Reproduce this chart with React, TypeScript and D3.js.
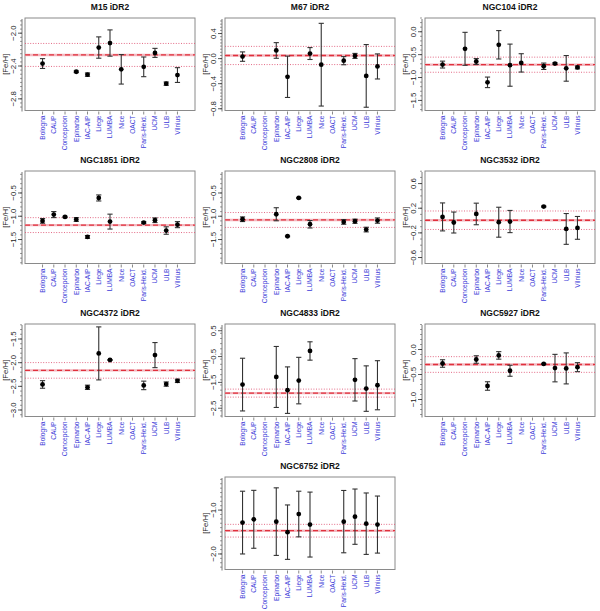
import React, { useEffect, useRef } from 'react';
import * as d3 from 'd3';

// --- Data: [Fe/H] per node, iDR2 ---
const NODES = ['Bologna', 'CAUP', 'Concepcion', 'Epinarbo', 'IAC-AIP', 'Liege', 'LUMBA', 'Nice', 'OACT', 'Paris-Heid.', 'UCM', 'ULB', 'Vilnius'];

const M15_FEH = [-2.37, null, null, -2.47, -2.505, -2.175, -2.12, -2.44, null, -2.41, -2.24, -2.615, -2.51];
const M15_ERR = [0.06, null, null, 0.01, 0.02, 0.13, 0.16, 0.18, null, 0.12, 0.055, 0.02, 0.09];
const M67_FEH = [0.032, null, null, 0.13, -0.29, null, 0.081, -0.097, null, -0.033, 0.043, -0.276, -0.125];
const M67_ERR = [0.075, null, null, 0.125, 0.33, null, 0.095, 0.66, null, 0.065, 0.04, 0.5, 0.2];
const NGC104_FEH = [-0.717, null, -0.373, -0.65, -1.105, -0.285, -0.73, -0.68, null, -0.754, -0.695, -0.8, -0.78];
const NGC104_ERR = [0.075, null, 0.36, 0.065, 0.115, 0.31, 0.46, 0.2, null, 0.07, 0.02, 0.28, 0.03];
const NGC1851_FEH = [-1.1, -0.964, -1.015, -1.07, -1.444, -0.607, -1.115, null, null, -1.136, -1.086, -1.307, -1.18];
const NGC1851_ERR = [0.05, 0.065, 0.015, 0.04, 0.03, 0.065, 0.16, null, null, 0.02, 0.05, 0.08, 0.065];
const NGC2808_FEH = [-1.064, null, null, -0.957, -1.43, -0.607, -1.172, null, null, -1.122, -1.107, -1.286, -1.093];
const NGC2808_ERR = [0.05, null, null, 0.14, 0.01, 0.01, 0.08, null, null, 0.05, 0.045, 0.05, 0.057];
const NGC3532_FEH = [0.059, -0.032, null, 0.107, null, -0.027, -0.016, null, null, 0.227, null, -0.136, -0.119];
const NGC3532_ERR = [0.227, 0.17, null, 0.175, null, 0.243, 0.18, null, null, 0.01, null, 0.25, 0.185];
const NGC4372_FEH = [-2.46, null, null, null, -2.52, -1.804, -1.943, null, null, -2.48, -1.84, -2.452, -2.384];
const NGC4372_ERR = [0.08, null, null, null, 0.045, 0.56, 0.01, null, null, 0.09, 0.265, 0.045, 0.035];
const NGC4833_FEH = [-1.585, null, null, -1.29, -1.8, -1.43, -0.284, null, null, null, -1.4, -1.74, -1.61];
const NGC4833_ERR = [1.02, null, null, 1.18, 0.9, 0.9, 0.355, null, null, null, 0.82, 0.88, 0.95];
const NGC5927_FEH = [-0.28, null, null, -0.2, -0.73, -0.118, -0.425, null, null, -0.288, -0.372, -0.378, -0.353];
const NGC5927_ERR = [0.075, null, null, 0.075, 0.085, 0.075, 0.11, null, null, 0.01, 0.275, 0.31, 0.09];
const NGC6752_FEH = [-1.285, -1.21, null, -1.263, -1.503, -1.09, -1.33, null, null, -1.263, -1.15, -1.31, -1.33];
const NGC6752_ERR = [0.715, 0.66, null, 0.77, 0.62, 0.52, 0.74, null, null, 0.71, 0.63, 0.7, 0.65];

// cluster mean and dispersion (dashed / dotted lines)
const CLUSTERS = ['M15', 'M67', 'NGC104', 'NGC1851', 'NGC2808', 'NGC3532', 'NGC4372', 'NGC4833', 'NGC5927', 'NGC6752'];
const MEANS = [-2.265, 0.05, -0.72, -1.19, -1.08, 0.005, -2.163, -1.915, -0.3, -1.47];
const SIGMAS = [0.14, 0.145, 0.165, 0.16, 0.16, 0.15, 0.165, 0.155, 0.157, 0.145];
const YLIMS = [[-2.942, -1.815], [-0.828, 0.648], [-1.72, 0.3], [-2.015, -0.028], [-2.015, -0.028], [-0.697, 0.804], [-3.137, -1.183], [-2.82, 0.76], [-1.34, 0.51], [-2.354, -0.246]];
const YTICKS = [[-2.8, -2.4, -2.0], [-0.8, -0.4, 0, 0.4], [-1.5, -1, -0.5, 0], [-1.5, -1, -0.5], [-1.5, -1, -0.5], [-0.6, -0.2, 0.2, 0.6], [-3, -2.5, -2, -1.5], [-2.5, -1.5, -0.5, 0.5], [-1, -0.5, 0], [-2, -1]];
const FEH = [M15_FEH, M67_FEH, NGC104_FEH, NGC1851_FEH, NGC2808_FEH, NGC3532_FEH, NGC4372_FEH, NGC4833_FEH, NGC5927_FEH, NGC6752_FEH];
const ERR = [M15_ERR, M67_ERR, NGC104_ERR, NGC1851_ERR, NGC2808_ERR, NGC3532_ERR, NGC4372_ERR, NGC4833_ERR, NGC5927_ERR, NGC6752_ERR];

const FONT = '"Liberation Sans", Arial, Helvetica, sans-serif';
const fmt = (v: number) => (v < 0 ? '\u2212' : '') + Math.abs(v).toFixed(1);

const App: React.FC = () => {
  const svgRef = useRef<SVGSVGElement | null>(null);

  useEffect(() => {
    if (!svgRef.current) return;
    const svg = d3.select(svgRef.current);
    svg.selectAll('*').remove();

    const rowPitch = 153;
    const boxColor = '#8a8a8a';

    CLUSTERS.forEach((name, k) => {
      const col = k === 9 ? 1 : k % 3;
      const row = Math.floor(k / 3);
      const ox = col * 200;
      const oy = row * rowPitch;
      const left = ox + 25, right = ox + 195;
      const top = oy + 18, bottom = oy + 110.5;

      const x = d3.scaleLinear().domain([-0.56, 14.56]).range([left, right]);
      const y = d3.scaleLinear().domain(YLIMS[k]).range([bottom, top]);
      const g = svg.append('g');

      // title
      g.append('text')
        .attr('x', (left + right) / 2).attr('y', oy + 10)
        .attr('text-anchor', 'middle').attr('font-family', FONT)
        .attr('font-size', '8.5px').attr('font-weight', 'bold').attr('fill', '#111')
        .text(`${name} iDR2`);

      // box
      g.append('rect')
        .attr('x', left).attr('y', top).attr('width', right - left).attr('height', bottom - top)
        .attr('fill', 'none').attr('stroke', boxColor).attr('stroke-width', 1);

      // y axis: ruler-like minor ticks plus labelled ticks
      const axX = left - 3;
      g.append('line').attr('x1', axX).attr('x2', axX).attr('y1', top + 1).attr('y2', bottom + 1)
        .attr('stroke', '#555').attr('stroke-width', 0.8);
      const minor = d3.ticks(YLIMS[k][0], YLIMS[k][1], Math.round((bottom - top) / 4.5));
      g.selectAll('.minor').data(minor).enter().append('line')
        .attr('x1', axX - 2).attr('x2', axX)
        .attr('y1', d => y(d)).attr('y2', d => y(d))
        .attr('stroke', '#555').attr('stroke-width', 0.6);
      g.selectAll('.major').data(YTICKS[k]).enter().append('line')
        .attr('x1', axX - 4).attr('x2', axX)
        .attr('y1', d => y(d)).attr('y2', d => y(d))
        .attr('stroke', '#333').attr('stroke-width', 0.8);
      g.selectAll('.ylab').data(YTICKS[k]).enter().append('text')
        .attr('transform', d => `translate(${ox + 16},${y(d)}) rotate(-90)`)
        .attr('text-anchor', 'middle').attr('font-family', FONT)
        .attr('font-size', '7.8px').attr('fill', '#222')
        .text(d => fmt(d));
      g.append('text')
        .attr('transform', `translate(${ox + 7.5},${(top + bottom) / 2}) rotate(-90)`)
        .attr('text-anchor', 'middle').attr('font-family', FONT)
        .attr('font-size', '7.8px').attr('fill', '#222')
        .text('[Fe/H]');

      // x ticks and node labels
      const idx = d3.range(1, NODES.length + 1);
      g.selectAll('.xtick').data(idx).enter().append('line')
        .attr('x1', d => x(d)).attr('x2', d => x(d))
        .attr('y1', bottom + 1).attr('y2', bottom + 4)
        .attr('stroke', '#555').attr('stroke-width', 0.7);
      g.selectAll('.xlab').data(NODES).enter().append('text')
        .attr('transform', (d, i) => `translate(${x(i + 1) + 2.4},${bottom + 5}) rotate(-90)`)
        .attr('text-anchor', 'end').attr('font-family', FONT)
        .attr('font-size', '6.6px').attr('fill', '#3c3cd8')
        .text(d => d);

      // mean and dispersion lines
      const m = MEANS[k], s = SIGMAS[k];
      g.append('line').attr('x1', left).attr('x2', right).attr('y1', y(m)).attr('y2', y(m))
        .attr('stroke', '#f3b8c0').attr('stroke-width', 2.4);
      g.append('line').attr('x1', left).attr('x2', right).attr('y1', y(m)).attr('y2', y(m))
        .attr('stroke', '#e0303c').attr('stroke-width', 1.3).attr('stroke-dasharray', '5,3');
      [m - s, m + s].forEach(v => {
        g.append('line').attr('x1', left).attr('x2', right).attr('y1', y(v)).attr('y2', y(v))
          .attr('stroke', '#e05a78').attr('stroke-width', 0.9).attr('stroke-dasharray', '1,1.6');
      });

      // error bars and points
      const pts = FEH[k].map((v, i) => ({ i: i + 1, v, e: ERR[k][i] }))
        .filter(p => p.v !== null) as { i: number; v: number; e: number }[];
      const eb = g.selectAll('.eb').data(pts).enter().append('g');
      eb.append('line')
        .attr('x1', d => x(d.i)).attr('x2', d => x(d.i))
        .attr('y1', d => y(d.v - d.e)).attr('y2', d => y(d.v + d.e))
        .attr('stroke', '#333').attr('stroke-width', 1.1);
      [1, -1].forEach(sgn => {
        eb.append('line')
          .attr('x1', d => x(d.i) - 2.6).attr('x2', d => x(d.i) + 2.6)
          .attr('y1', d => y(d.v + sgn * d.e)).attr('y2', d => y(d.v + sgn * d.e))
          .attr('stroke', '#333').attr('stroke-width', 1.1);
      });
      eb.append('circle')
        .attr('cx', d => x(d.i)).attr('cy', d => y(d.v)).attr('r', 2.4)
        .attr('fill', '#000');
    });
  }, []);

  return (
    <svg ref={svgRef} width={600} height={611}
      style={{ position: 'absolute', left: 0, top: 0, background: '#fff' }} />
  );
};

export default App;
